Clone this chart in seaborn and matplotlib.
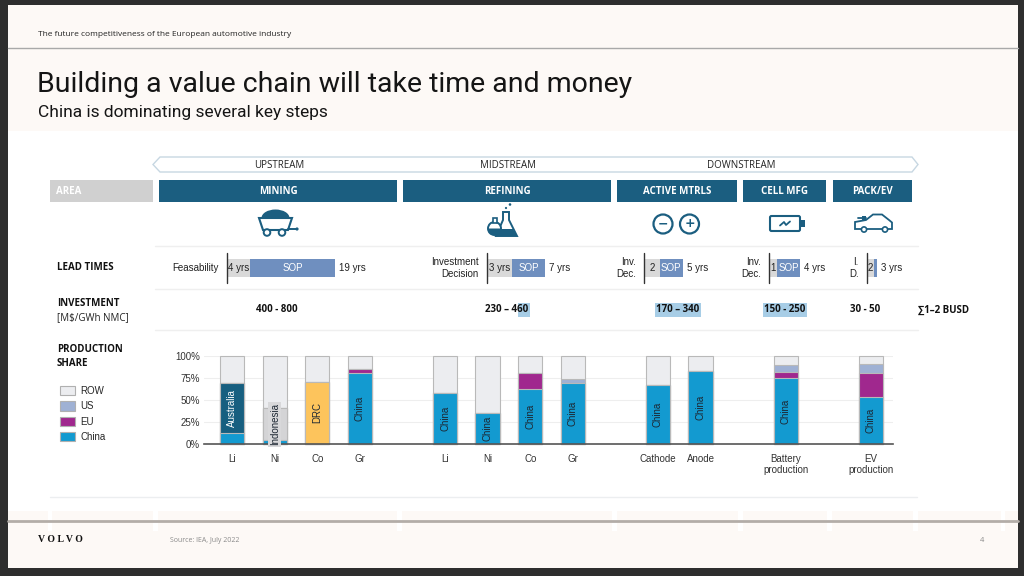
import numpy as np
import pandas as pd
import matplotlib.pyplot as plt
import matplotlib.patches as mpatches
import seaborn as sns

# ---- data ----
streams = ['UPSTREAM', 'MIDSTREAM', 'DOWNSTREAM']
stages = ['MINING', 'REFINING', 'ACTIVE MTRLS', 'CELL MFG', 'PACK/EV']
stage_counts = [4, 4, 2, 1, 1]

lead_start_labels = ['Feasability', 'Investment\nDecision', 'Inv.\nDec.', 'Inv.\nDec.', 'I.\nD.']
lead_pre = [4, 3, 2, 1, 2]
lead_pre_labels = ['4 yrs', '3 yrs', '2', '1', '2']
lead_total = [19, 7, 5, 4, 3]

investment = ['400 - 800', '230 – 460', '170 – 340', '150 - 250', '30 - 50']
investment_total = '∑1–2 BUSD'

materials = ['Li', 'Ni', 'Co', 'Gr', 'Li', 'Ni', 'Co', 'Gr', 'Cathode', 'Anode',
             'Battery\nproduction', 'EV\nproduction']
share_china = [13, 4, 0, 81, 58, 35, 63, 69, 67, 83, 75, 53]
share_country = [56, 37, 71, 0, 0, 0, 0, 0, 0, 0, 0, 0]
country = ['Australia', 'Indonesia', 'DRC', '', '', '', '', '', '', '', '', '']
share_eu = [0, 0, 0, 4, 0, 0, 18, 0, 0, 0, 7, 28]
share_us = [0, 0, 0, 0, 0, 0, 0, 5, 0, 0, 8, 10]
legend_labels = ['ROW', 'US', 'EU', 'China']

# ---- style ----
sns.set_theme(style='white')
HEAD = ['Open Sans', 'DejaVu Sans']
BODY = ['Liberation Sans', 'DejaVu Sans']
TITLE = ['Roboto', 'DejaVu Sans']
plt.rcParams['font.family'] = BODY

TEAL = '#1b5e80'
C_CHINA, C_EU, C_US, C_ROW = '#139ad0', '#a0288e', '#9fb1d4', '#ecedf0'
country_colors = {'Australia': '#175f80', 'Indonesia': '#d4d4d6', 'DRC': '#fdc45c'}
EDGE = '#b9b9b9'
DARK = '#222222'

fig = plt.figure(figsize=(10.24, 5.76), dpi=100)
fig.patch.set_facecolor('#2e2e2e')
bg = fig.add_axes([0, 0, 1, 1])
bg.set_xlim(0, 1024)
bg.set_ylim(576, 0)
bg.axis('off')


def rect(x0, y0, x1, y1, **kw):
    bg.add_patch(mpatches.Rectangle((x0, y0), x1 - x0, y1 - y0, **kw))


# slide background
rect(8, 5, 1018, 568, facecolor='#fdf9f6', edgecolor='none')
rect(8, 131, 1018, 511, facecolor='white', edgecolor='none')
bg.plot([8, 1018], [48, 48], color='#a9a9a9', lw=1)
bg.text(38, 35, 'The future competitiveness of the European automotive industry',
        fontsize=6, family=HEAD, va='center', color=DARK)
bg.text(37, 85, 'Building a value chain will take time and money', fontsize=20.5,
        family=TITLE, va='center', color='#151515')
bg.text(38, 112, 'China is dominating several key steps', fontsize=12.5,
        family=TITLE, va='center', color='#151515')

# footer
bg.plot([8, 1018], [521, 521], color='#b3ada8', lw=2)
for g0, g1 in [(48, 52), (153, 158), (397, 402), (612, 617), (738, 743),
               (827, 832), (913, 918), (1001, 1005)]:
    rect(g0, 511, g1, 531, facecolor='white', edgecolor='none')
bg.text(38, 540, 'V O L V O', fontsize=7, family=['Liberation Serif', 'DejaVu Serif'],
        weight='bold', va='center', color='#111111')
bg.text(170, 540, 'Source: IEA, July 2022', fontsize=5, family=HEAD, va='center', color='#8a8a8a')
bg.text(980, 540, '4', fontsize=5.5, family=HEAD, va='center', color='#8a8a8a')

# stream arrow band
band = mpatches.Polygon([(153, 164.5), (160, 157), (912, 157), (918, 164.5), (912, 172), (160, 172)],
                        closed=True, facecolor='white', edgecolor='#c7d7e2', lw=1)
bg.add_patch(band)
for name, cx in zip(streams, [279, 508, 741]):
    bg.text(cx, 165, name, fontsize=7, family=HEAD, ha='center', va='center', color=DARK)

# area header boxes
stage_x = [(159, 397), (403, 611), (617, 737), (743, 826), (833, 912)]
rect(50, 180, 153, 202, facecolor='#d0d0d0', edgecolor='none')
bg.text(56, 191, 'AREA', fontsize=7, family=HEAD, weight='bold', color='white', va='center')
for name, (x0, x1) in zip(stages, stage_x):
    rect(x0, 180, x1, 202, facecolor=TEAL, edgecolor='none')
    bg.text((x0 + x1) / 2, 191, name, fontsize=7, family=HEAD, weight='bold',
            color='white', ha='center', va='center')

# icons
# mining cart
bg.add_patch(mpatches.Ellipse((275.5, 218), 28, 17, facecolor=TEAL, edgecolor='none'))
bg.add_patch(mpatches.Polygon([(259, 218), (292, 218), (288, 230), (263, 230)], closed=True,
                              facecolor='white', edgecolor=TEAL, lw=1.5))
for wx in (267, 282):
    bg.add_patch(mpatches.Circle((wx, 232.5), 3.3, facecolor='white', edgecolor=TEAL, lw=1.4))
bg.plot([288, 296], [229, 229], color=TEAL, lw=1.4)
bg.add_patch(mpatches.Circle((297, 229), 1.6, facecolor=TEAL, edgecolor='none'))
# flasks
bg.add_patch(mpatches.Polygon([(503, 212), (509, 212), (509, 220), (517, 236), (496, 236), (503, 220)],
                              closed=True, facecolor='white', edgecolor=TEAL, lw=1.4))
bg.add_patch(mpatches.Polygon([(500, 229), (513, 229), (517, 236), (496, 236)],
                              closed=True, facecolor=TEAL, edgecolor='none'))
bg.add_patch(mpatches.Circle((494.5, 228.5), 6.5, facecolor='white', edgecolor=TEAL, lw=1.4))
bg.add_patch(mpatches.Wedge((494.5, 228.5), 6.5, 0, 180, facecolor=TEAL, edgecolor='none'))
rect(493, 218, 497, 222.5, facecolor='white', edgecolor=TEAL, lw=1.2)
for (bx, by), br in zip([(506, 208), (510, 204.5), (507, 201)], [1.1, 1.3, 0.9]):
    bg.add_patch(mpatches.Circle((bx, by), br, facecolor=TEAL, edgecolor='none'))
# electrodes
for cx, sym in [(663, '−'), (689.5, '+')]:
    bg.add_patch(mpatches.Circle((cx, 224), 9.5, facecolor='white', edgecolor=TEAL, lw=1.6))
    bg.text(cx, 223.5, sym, fontsize=9, weight='bold', color=TEAL, ha='center', va='center',
            family=['DejaVu Sans'])
# battery
bg.add_patch(mpatches.FancyBboxPatch((770, 216), 30, 15, boxstyle='round,pad=0,rounding_size=1.5',
                                     facecolor='white', edgecolor=TEAL, lw=1.5))
rect(800, 220, 805, 227, facecolor=TEAL, edgecolor='none')
bg.plot([780, 784, 786, 790], [225.5, 222, 225, 221.5], color=TEAL, lw=1.3)
# car
bg.add_patch(mpatches.Polygon([(855, 229), (855, 222), (866, 220), (873, 214.5), (882, 214.5),
                               (889, 220), (892, 222.5), (892, 229)], closed=True,
                              facecolor='white', edgecolor=TEAL, lw=1.3))
for wx in (864, 885):
    bg.add_patch(mpatches.Circle((wx, 229.5), 2.6, facecolor='white', edgecolor=TEAL, lw=1.2))
bg.plot([858, 866], [217.5, 217.5], color=TEAL, lw=1.3)
rect(862, 215.5, 866, 219.5, facecolor=TEAL, edgecolor='none')

# row separators
for yy in (246, 289, 330):
    bg.plot([155, 918], [yy, yy], color='#efefef', lw=1)
bg.plot([50, 917], [497, 497], color='#eceef0', lw=1)

# row labels
bg.text(57, 267, 'LEAD TIMES', fontsize=7, family=HEAD, weight='bold', va='center', color='#111')
bg.text(57, 303, 'INVESTMENT', fontsize=7, family=HEAD, weight='bold', va='center', color='#111')
bg.text(57, 318, '[M$/GWh NMC]', fontsize=7, family=HEAD, va='center', color='#222')
bg.text(57, 350, 'PRODUCTION', fontsize=7, family=HEAD, weight='bold', va='center', color='#111')
bg.text(57, 363, 'SHARE', fontsize=7, family=HEAD, weight='bold', va='center', color='#111')

# lead time bars
lead_x0 = [227, 487, 644, 769, 867]
lead_w = [108, 58, 39, 31, 10]
for i in range(len(stages)):
    la = fig.add_axes([lead_x0[i] / 1024, 1 - 277 / 576, lead_w[i] / 1024, 18 / 576])
    la.barh(0, lead_pre[i], height=1, color='#d9d9d9', edgecolor='none')
    la.barh(0, lead_total[i] - lead_pre[i], left=lead_pre[i], height=1, color='#6f8fbf', edgecolor='none')
    la.set_xlim(0, lead_total[i])
    la.set_ylim(-0.5, 0.5)
    la.axis('off')
    la.axvline(0, ymin=-0.35, ymax=1.35, color='#333333', lw=1, clip_on=False)
    la.text(lead_pre[i] / 2, 0, lead_pre_labels[i], fontsize=7, ha='center', va='center', color=DARK)
    if lead_total[i] - lead_pre[i] > 1:
        la.text((lead_pre[i] + lead_total[i]) / 2, 0, 'SOP', fontsize=7, ha='center',
                va='center', color='white')
    la.annotate(f'{lead_total[i]} yrs', xy=(lead_total[i], 0), xytext=(3, 0), textcoords='offset points',
                fontsize=7, ha='left', va='center', color=DARK)
    la.annotate(lead_start_labels[i], xy=(0, 0), xytext=(-6, 0), textcoords='offset points',
                fontsize=7, ha='right', va='center', color=DARK, multialignment='right',
                linespacing=1.15)

# investment
invest_x = [277, 507, 678, 785, 865]
HL = '#a7cde6'
rect(518, 303, 530, 317, facecolor=HL, edgecolor='none')
for i, (txt, cx) in enumerate(zip(investment, invest_x)):
    box = dict(facecolor=HL, edgecolor='none', pad=1.2) if i in (2, 3) else None
    bg.text(cx, 310, txt, fontsize=7, family=HEAD, weight='bold', ha='center', va='center',
            color='#111', bbox=box)
bg.text(918, 310, investment_total, fontsize=7, family=HEAD, weight='bold', va='center', color='#111')

# ---- production share chart ----
pos = []
p = 0
for n in stage_counts:
    pos += list(range(p, p + n))
    p += n + 1

df = pd.DataFrame({'pos': pos, 'china': share_china, 'country': share_country,
                   'name': country, 'eu': share_eu, 'us': share_us})
df['country_top'] = df['china'] + df['country']
df['eu_top'] = df['country_top'] + df['eu']
df['us_top'] = df['eu_top'] + df['us']
df['row_top'] = 100

ax = fig.add_axes([204 / 1024, (576 - 444) / 576, 689 / 1024, 88 / 576])
ax.patch.set_alpha(0)
bar_kw = dict(native_scale=True, width=0.57, saturation=1, edgecolor=EDGE, linewidth=0.8,
              errorbar=None, ax=ax)
sns.barplot(data=df, x='pos', y='row_top', color=C_ROW, **bar_kw)
sns.barplot(data=df, x='pos', y='us_top', color=C_US, **bar_kw)
sns.barplot(data=df, x='pos', y='eu_top', color=C_EU, **bar_kw)
dfc = df[df['country'] > 0]
sns.barplot(data=dfc, x='pos', y='country_top', hue='name', palette=country_colors,
            dodge=False, legend=False, **bar_kw)
sns.barplot(data=df, x='pos', y='china', color=C_CHINA, **bar_kw)
for patch in ax.patches:
    patch.set_clip_on(False)

for _, r in df.iterrows():
    if r['country'] > 0:
        lab, ym = r['name'], r['china'] + r['country'] / 2
    else:
        lab, ym = 'China', r['china'] / 2
    col = 'white' if lab == 'Australia' else '#1d2733'
    box = dict(facecolor='#d8d8da', edgecolor='none', pad=1.2) if lab == 'Indonesia' else None
    ax.text(r['pos'], ym, lab, rotation=90, fontsize=7, ha='center', va='center', color=col, bbox=box)

ax.set_xlim(-0.66, 15.52)
ax.set_ylim(0, 100)
ax.set_xlabel('')
ax.set_ylabel('')
ax.set_xticks(pos)
ax.set_xticklabels(materials)
ax.set_yticks([0, 25, 50, 75, 100])
ax.set_yticklabels(['0%', '25%', '50%', '75%', '100%'])
ax.tick_params(axis='x', length=0, pad=7, labelsize=7, colors='#333333')
ax.tick_params(axis='y', length=0, pad=3, labelsize=7, colors='#333333')
ax.yaxis.grid(True, color='#eeeeee', lw=0.8)
ax.set_axisbelow(True)
sns.despine(ax=ax, left=True)
ax.spines['bottom'].set_color('#555555')
ax.spines['bottom'].set_linewidth(1.2)

handles = [mpatches.Patch(facecolor=c, edgecolor='#b0b0b0', lw=0.8, label=l)
           for c, l in zip([C_ROW, C_US, C_EU, C_CHINA], legend_labels)]
fig.legend(handles=handles, loc='upper left', bbox_to_anchor=(60 / 1024, 1 - 386 / 576),
           frameon=False, prop=dict(family=BODY, size=7), handlelength=1.5, handleheight=1.1,
           labelspacing=0.55, handletextpad=0.6, borderaxespad=0, borderpad=0)

fig.savefig('out.png', dpi=100, facecolor=fig.get_facecolor())
